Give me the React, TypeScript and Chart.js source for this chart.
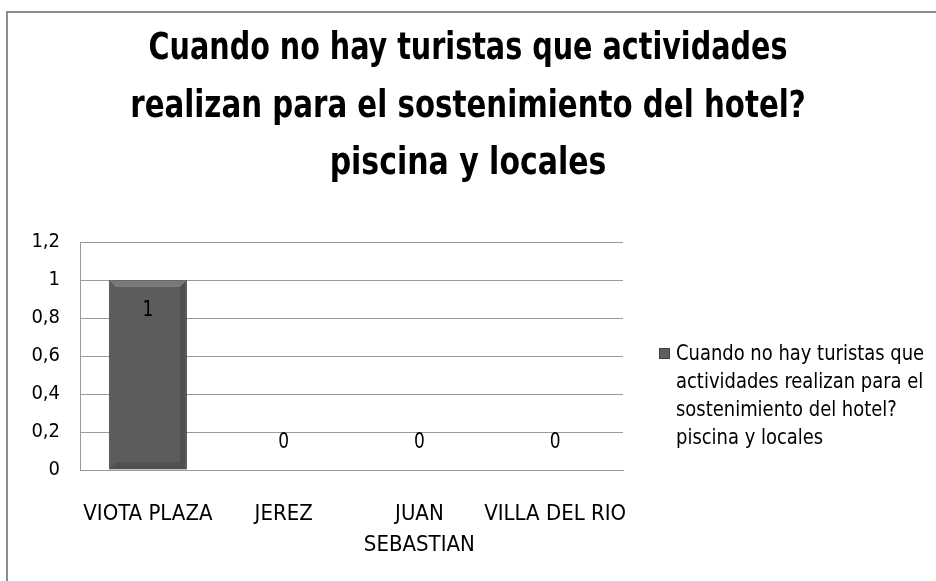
import React, { useEffect, useRef } from "react";
import { Chart, registerables } from "chart.js";

Chart.register(...registerables);

const categories: string[][] = [["VIOTA PLAZA"], ["JEREZ"], ["JUAN", "SEBASTIAN"], ["VILLA DEL RIO"]];
const values: number[] = [1, 0, 0, 0];
const yTicks: number[] = [0, 0.2, 0.4, 0.6, 0.8, 1, 1.2];
const titleLines: string[] = [
  "Cuando no hay turistas que actividades",
  "realizan para el sostenimiento del hotel?",
  "piscina y locales",
];
const legendLines: string[] = [
  "Cuando no hay turistas que",
  "actividades realizan para el",
  "sostenimiento del hotel?",
  "piscina y locales",
];
const seriesName = legendLines.join(" ");

const FONT = "'DejaVu Sans Condensed', 'Open Sans', sans-serif";
const GRID = "#9a9a9a";

const fmt = (v: number) => String(Math.round(v * 10) / 10).replace(".", ",");

function scaledText(ctx: any, text: string, x: number, y: number, sx: number) {
  ctx.save();
  ctx.scale(sx, 1);
  ctx.fillText(text, x / sx, y);
  ctx.restore();
}

const decorPlugin = {
  id: "decor",
  beforeDraw(chart: any) {
    const ctx = chart.ctx;
    ctx.save();
    ctx.fillStyle = "#ffffff";
    ctx.fillRect(0, 0, chart.width, chart.height);
    ctx.strokeStyle = "#8c8c8c";
    ctx.lineWidth = 2;
    ctx.beginPath();
    ctx.moveTo(7, chart.height);
    ctx.lineTo(7, 12);
    ctx.lineTo(chart.width, 12);
    ctx.stroke();
    ctx.restore();
  },
  afterDatasetsDraw(chart: any) {
    const ctx = chart.ctx;
    const meta = chart.getDatasetMeta(0);
    const yScale = chart.scales.y;
    ctx.save();
    meta.data.forEach((bar: any, i: number) => {
      const p = bar.getProps(["x", "y", "base", "width"], true);
      const left = p.x - p.width / 2;
      const right = p.x + p.width / 2;
      const h = p.base - p.y;
      if (h > 4) {
        const b = 7;
        ctx.fillStyle = "rgba(255,255,255,0.18)";
        ctx.beginPath();
        ctx.moveTo(left, p.y);
        ctx.lineTo(right, p.y);
        ctx.lineTo(right - b, p.y + b);
        ctx.lineTo(left + b, p.y + b);
        ctx.closePath();
        ctx.fill();
        ctx.fillStyle = "rgba(0,0,0,0.12)";
        ctx.beginPath();
        ctx.moveTo(right, p.y);
        ctx.lineTo(right, p.base);
        ctx.lineTo(right - b, p.base - b);
        ctx.lineTo(right - b, p.y + b);
        ctx.closePath();
        ctx.fill();
        ctx.beginPath();
        ctx.moveTo(left, p.base);
        ctx.lineTo(right, p.base);
        ctx.lineTo(right - b, p.base - b);
        ctx.lineTo(left + b, p.base - b);
        ctx.closePath();
        ctx.fill();
      }
      const v = values[i];
      ctx.fillStyle = "#000000";
      ctx.font = `21px ${FONT}`;
      ctx.textAlign = "center";
      ctx.textBaseline = "middle";
      const ly = v > 0 ? p.y + 31 : yScale.getPixelForValue(0) - 27;
      scaledText(ctx, fmt(v), p.x, ly, 0.9);
    });
    ctx.restore();
  },
  afterDraw(chart: any) {
    const ctx = chart.ctx;
    ctx.save();
    ctx.fillStyle = "#000000";
    ctx.textAlign = "center";
    ctx.textBaseline = "middle";
    ctx.font = `bold 37px ${FONT}`;
    const ty = [49, 107, 164];
    const tsx = [0.86, 0.88, 0.9];
    titleLines.forEach((t, i) => scaledText(ctx, t, 468, ty[i], tsx[i]));

    const lx = 659;
    ctx.fillStyle = "#5e5e5e";
    ctx.fillRect(lx, 348, 11, 11);
    ctx.strokeStyle = "#3f3f3f";
    ctx.lineWidth = 1;
    ctx.strokeRect(lx + 0.5, 348.5, 10, 10);
    ctx.fillStyle = "#000000";
    ctx.textAlign = "left";
    ctx.font = `21px ${FONT}`;
    legendLines.forEach((t, i) => scaledText(ctx, t, 676, 355 + i * 27.7, 0.95));
    ctx.restore();
  },
};

export default function App() {
  const ref = useRef<HTMLCanvasElement | null>(null);
  useEffect(() => {
    if (!ref.current) return;
    const chart = new Chart(ref.current, {
      type: "bar",
      data: {
        labels: categories,
        datasets: [
          {
            label: seriesName,
            data: values,
            backgroundColor: "#5c5c5c",
            borderColor: "#474747",
            borderWidth: 1,
            categoryPercentage: 1,
            barPercentage: 0.575,
          },
        ],
      },
      options: {
        animation: false,
        responsive: true,
        maintainAspectRatio: false,
        layout: { padding: { left: 0, top: 242, right: 313, bottom: 0 } },
        plugins: {
          legend: { display: false },
          title: { display: false },
          tooltip: { enabled: false },
        },
        scales: {
          x: {
            grid: { display: false },
            border: { display: true, color: GRID, width: 1 },
            ticks: {
              color: "#000000",
              font: { family: FONT, size: 22, lineHeight: 1.4 },
              padding: 21,
              maxRotation: 0,
              autoSkip: false,
            },
            afterFit: (s: any) => {
              s.height = 111;
            },
          },
          y: {
            min: 0,
            max: 1.2,
            grid: { color: GRID, drawTicks: false, lineWidth: 1 },
            border: { display: true, color: GRID, width: 1 },
            afterBuildTicks: (s: any) => {
              s.ticks = yTicks.map((v) => ({ value: v }));
            },
            ticks: {
              color: "#000000",
              font: { family: FONT, size: 20 },
              padding: 20,
              callback: (v: any) => fmt(Number(v)),
            },
            afterFit: (s: any) => {
              s.width = 80;
            },
          },
        },
      },
      plugins: [decorPlugin],
    });
    return () => chart.destroy();
  }, []);
  return (
    <div style={{ position: "absolute", left: 0, top: 0, width: 936, height: 581 }}>
      <canvas ref={ref} />
    </div>
  );
}
